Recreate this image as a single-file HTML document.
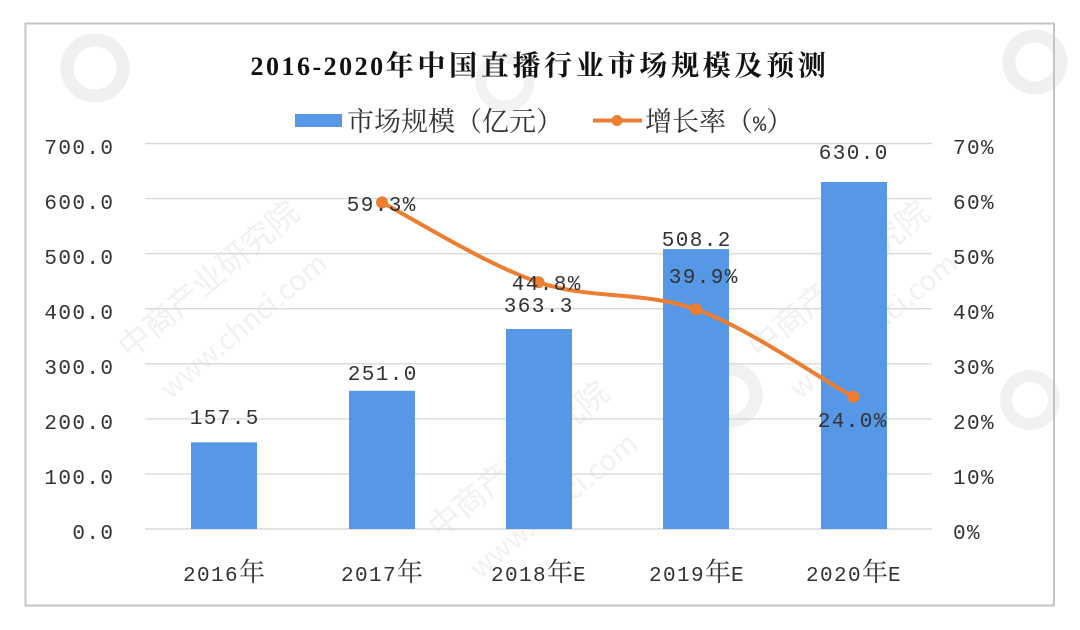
<!DOCTYPE html>
<html>
<head>
<meta charset="utf-8">
<style>
  html, body { margin:0; padding:0; background:#ffffff; }
  body { width:1080px; height:630px; overflow:hidden; }
  svg { display:block; }
  .num { font-family:"Liberation Mono","Noto Sans CJK SC",monospace; font-size:21px; letter-spacing:1.4px; fill:#333333; }
  .cjk { font-family:"Noto Serif CJK SC","Noto Sans CJK SC",serif; }
  .wm { font-family:"Noto Sans CJK SC","Liberation Sans",sans-serif; fill:#f1f1f1; }
</style>
</head>
<body>
<svg width="1080" height="630" viewBox="0 0 1080 630" xmlns="http://www.w3.org/2000/svg">
  <rect x="0" y="0" width="1080" height="630" fill="#ffffff"/>

  <!-- faint watermarks -->
  <g>
    <circle cx="95" cy="68" r="28" fill="none" stroke="#f0f0f0" stroke-width="13"/>
    <circle cx="1035" cy="62" r="26" fill="none" stroke="#f0f0f0" stroke-width="13"/>
    <circle cx="730" cy="395" r="26" fill="none" stroke="#f1f1f1" stroke-width="13"/>
    <circle cx="1030" cy="400" r="24" fill="none" stroke="#f1f1f1" stroke-width="12"/>
    <circle cx="505" cy="82" r="24" fill="none" stroke="#f2f2f2" stroke-width="11"/>
    <text class="wm" font-size="32" transform="translate(130,360) rotate(-40)">中商产业研究院</text>
    <text class="wm" font-size="28" transform="translate(170,400) rotate(-40)">www.chnci.com</text>
    <text class="wm" font-size="32" transform="translate(440,540) rotate(-40)">中商产业研究院</text>
    <text class="wm" font-size="28" transform="translate(480,580) rotate(-40)">www.chnci.com</text>
    <text class="wm" font-size="32" transform="translate(760,360) rotate(-40)">中商产业研究院</text>
    <text class="wm" font-size="28" transform="translate(800,400) rotate(-40)">www.chnci.com</text>
  </g>

  <!-- frame -->
  <rect x="25.5" y="23.5" width="1028.5" height="582" fill="none" stroke="#c4c4c4" stroke-width="2"/>

  <!-- title -->
  <text x="540" y="75" text-anchor="middle" font-weight="bold" fill="#111">
    <tspan font-family="Liberation Serif, serif" font-size="26" letter-spacing="2.5">2016-2020</tspan><tspan class="cjk" font-size="28" letter-spacing="3.7" font-weight="bold">年中国直播行业市场规模及预测</tspan>
  </text>

  <!-- legend -->
  <rect x="295" y="114" width="47" height="13" fill="#5698E6"/>
  <text x="347" y="131" class="cjk" font-size="27" fill="#333">市场规模（亿元）</text>
  <line x1="593" y1="120.5" x2="642" y2="120.5" stroke="#ED7D31" stroke-width="4"/>
  <circle cx="617" cy="120.5" r="5.5" fill="#ED7D31"/>
  <text x="645" y="131" font-size="27" fill="#333"><tspan class="cjk">增长率（</tspan><tspan font-family="Liberation Mono, monospace" font-size="22">%</tspan><tspan class="cjk">）</tspan></text>

  <!-- gridlines -->
  <g stroke="#d9d9d9" stroke-width="1.4">
    <line x1="145" y1="143.5" x2="932" y2="143.5"/>
    <line x1="145" y1="198.6" x2="932" y2="198.6"/>
    <line x1="145" y1="253.7" x2="932" y2="253.7"/>
    <line x1="145" y1="308.7" x2="932" y2="308.7"/>
    <line x1="145" y1="363.8" x2="932" y2="363.8"/>
    <line x1="145" y1="418.9" x2="932" y2="418.9"/>
    <line x1="145" y1="473.9" x2="932" y2="473.9"/>
    <line x1="145" y1="529" x2="932" y2="529"/>
  </g>

  <!-- left axis labels -->
  <g class="num" text-anchor="end">
    <text x="114.4" y="154">700.0</text>
    <text x="114.4" y="209">600.0</text>
    <text x="114.4" y="264">500.0</text>
    <text x="114.4" y="319">400.0</text>
    <text x="114.4" y="374">300.0</text>
    <text x="114.4" y="429">200.0</text>
    <text x="114.4" y="484">100.0</text>
    <text x="114.4" y="539">0.0</text>
  </g>

  <!-- right axis labels -->
  <g class="num">
    <text x="953" y="154">70%</text>
    <text x="953" y="209">60%</text>
    <text x="953" y="264">50%</text>
    <text x="953" y="319">40%</text>
    <text x="953" y="374">30%</text>
    <text x="953" y="429">20%</text>
    <text x="953" y="484">10%</text>
    <text x="953" y="539">0%</text>
  </g>

  <!-- bars -->
  <g fill="#5698E6">
    <rect x="191" y="442.3" width="66" height="86.7"/>
    <rect x="349" y="390.8" width="66" height="138.2"/>
    <rect x="506" y="329" width="66" height="200"/>
    <rect x="663" y="249.1" width="66" height="279.9"/>
    <rect x="821" y="182" width="66" height="347"/>
  </g>

  <!-- category labels -->
  <g class="num" text-anchor="middle">
    <text x="224" y="581">2016<tspan class="cjk" font-size="26" letter-spacing="0">年</tspan></text>
    <text x="382" y="581">2017<tspan class="cjk" font-size="26" letter-spacing="0">年</tspan></text>
    <text x="539" y="581">2018<tspan class="cjk" font-size="26" letter-spacing="0">年</tspan>E</text>
    <text x="697" y="581">2019<tspan class="cjk" font-size="26" letter-spacing="0">年</tspan>E</text>
    <text x="854" y="581">2020<tspan class="cjk" font-size="26" letter-spacing="0">年</tspan>E</text>
  </g>

  <!-- bar value labels -->
  <g class="num" text-anchor="middle">
    <text x="224.7" y="424">157.5</text>
    <text x="382.7" y="380">251.0</text>
    <text x="538.7" y="312">363.3</text>
    <text x="696.7" y="246">508.2</text>
    <text x="853.7" y="159">630.0</text>
  </g>

  <!-- growth line (smoothed) -->
  <path d="M382,202.4 C408.1,215.9 486.2,264.8 538.5,282.3 C590.8,299.8 643.4,290.8 695.9,309.3 C748.4,327.8 827.1,383.1 853.3,396.8"
        fill="none" stroke="#ED7D31" stroke-width="4" stroke-linecap="round"/>
  <g fill="#ED7D31">
    <circle cx="382" cy="202.4" r="6"/>
    <circle cx="538.5" cy="282.3" r="6"/>
    <circle cx="695.9" cy="309.3" r="6"/>
    <circle cx="853.3" cy="396.8" r="6"/>
  </g>

  <!-- growth labels -->
  <g class="num" text-anchor="middle">
    <text x="381.7" y="211">59.3%</text>
    <text x="546.7" y="290">44.8%</text>
    <text x="703.7" y="283">39.9%</text>
    <text x="852.7" y="427">24.0%</text>
  </g>
</svg>
</body>
</html>
